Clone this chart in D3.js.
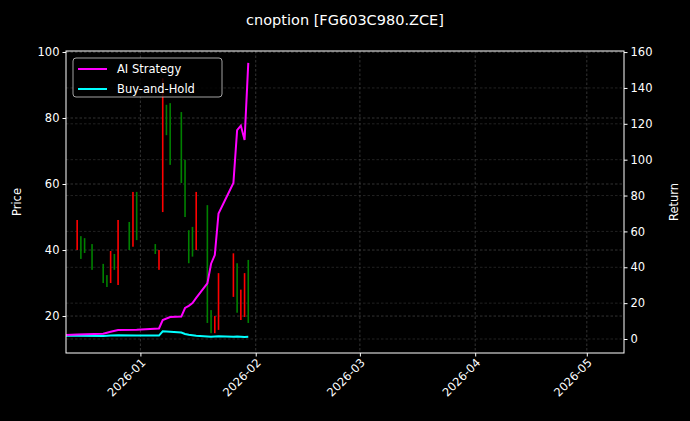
<!DOCTYPE html>
<html><head><meta charset="utf-8">
<script src="https://cdn.jsdelivr.net/npm/d3@7"></script>
<style>body{margin:0;background:#000}text{font-family:"DejaVu Sans",sans-serif}</style>
</head><body><svg id="c" width="690" height="421"></svg>
<script>
const candleDates=["2025-12-15","2025-12-16","2025-12-17","2025-12-19","2025-12-22","2025-12-23","2025-12-24","2025-12-25","2025-12-26","2025-12-29","2025-12-30","2025-12-31","2026-01-05","2026-01-06","2026-01-07","2026-01-08","2026-01-09","2026-01-12","2026-01-13","2026-01-14","2026-01-15","2026-01-16","2026-01-19","2026-01-20","2026-01-21","2026-01-22","2026-01-26","2026-01-27","2026-01-28","2026-01-29","2026-01-30"];
const openP =[40.0,44.2,43.6,41.8,35.8,32.4,30.0,38.8,29.4,48.5,41.0,57.6,41.8,34.0,51.5,84.0,84.5,81.8,67.3,46.0,47.0,40.0,53.6,21.8,14.8,15.8,25.8,36.0,18.8,19.7,37.0];
const closeP=[49.1,37.3,39.1,34.0,30.0,28.8,39.7,34.0,49.1,40.0,57.6,43.0,38.8,40.0,92.0,74.8,65.8,60.3,50.0,36.0,38.0,57.6,17.9,14.8,20.0,33.0,39.0,21.0,28.0,33.0,17.9];
const returnDates=["2025-12-12","2025-12-15","2025-12-22","2025-12-24","2025-12-26","2025-12-31","2026-01-06","2026-01-07","2026-01-09","2026-01-12","2026-01-13","2026-01-14","2026-01-15","2026-01-16","2026-01-19","2026-01-20","2026-01-21","2026-01-22","2026-01-26","2026-01-27","2026-01-28","2026-01-29","2026-01-30"];
const aiReturn=[2.2,2.5,3.0,4.0,5.0,5.2,5.9,10.6,12.3,12.5,17.3,18.5,20.0,22.9,31.0,42.0,46.8,70.0,87.0,116.5,119.0,111.0,154.0];
const bhReturn=[1.8,1.8,1.7,2.0,2.1,1.9,1.9,4.3,4.0,3.6,2.8,2.4,2.1,1.8,1.4,1.2,1.4,1.6,1.3,1.4,1.3,1.1,1.2];
const priceTicks=[20,40,60,80,100];
const returnTicks=[0,20,40,60,80,100,120,140,160];
const dateTicks=["2026-01-01","2026-02-01","2026-03-01","2026-04-01","2026-05-01"];

const p=d3.utcParse("%Y-%m-%d");
const L=66,R=624,T=51,B=353;
const svg=d3.select("#c");
svg.append("rect").attr("width",690).attr("height",421).attr("fill","#000");
const x=d3.scaleUtc().domain([p("2025-12-12"),p("2026-05-11")]).range([L,R]);
const y=d3.scaleLinear().domain([8.8,100.3]).range([B,T]);
const y2=d3.scaleLinear().domain([-7.8,160.6]).range([B,T]);
const g=svg.append("g");
g.selectAll(".vg").data(dateTicks).join("line").attr("x1",d=>x(p(d))).attr("x2",d=>x(p(d))).attr("y1",T).attr("y2",B)
 .attr("stroke","#555").attr("stroke-width",0.6).attr("stroke-dasharray","2.5,2");
g.selectAll(".hg").data(priceTicks).join("line").attr("x1",L).attr("x2",R).attr("y1",d=>y(d)).attr("y2",d=>y(d))
 .attr("stroke","#555").attr("stroke-width",0.6).attr("stroke-dasharray","2.5,2");
g.selectAll(".hg2").data(returnTicks).join("line").attr("x1",L).attr("x2",R).attr("y1",d=>y2(d)).attr("y2",d=>y2(d))
 .attr("stroke","#444").attr("stroke-width",0.5).attr("stroke-dasharray","2.5,2");
const cd=candleDates.map((d,i)=>({d:p(d),o:openP[i],c:closeP[i]}));
g.selectAll(".cd").data(cd).join("rect").attr("x",d=>x(d.d)-0.8).attr("width",1.6)
 .attr("y",d=>y(Math.max(d.o,d.c))).attr("height",d=>Math.abs(y(d.o)-y(d.c)))
 .attr("fill",d=>d.c>=d.o?"#ff0000":"#008000");
const rd=returnDates.map(p);
const ln=d3.line().x(d=>x(d[0])).y(d=>y2(d[1]));
g.append("path").attr("d",ln(rd.map((d,i)=>[d,bhReturn[i]]))).attr("fill","none").attr("stroke","#00ffff").attr("stroke-width",2);
g.append("path").attr("d",ln(rd.map((d,i)=>[d,aiReturn[i]]))).attr("fill","none").attr("stroke","#ff00ff").attr("stroke-width",2);
const ax=svg.append("g").attr("transform",`translate(0,${B})`).call(d3.axisBottom(x).tickValues(dateTicks.map(p)).tickFormat(d3.utcFormat("%Y-%m")).tickSize(3.5));
ax.selectAll("text").attr("transform","rotate(-45)").attr("text-anchor","end").attr("dx","-0.3em").attr("dy","0.4em");
const ay=svg.append("g").attr("transform",`translate(${L},0)`).call(d3.axisLeft(y).tickValues(priceTicks).tickSize(3.5));
const ay2=svg.append("g").attr("transform",`translate(${R},0)`).call(d3.axisRight(y2).tickValues(returnTicks).tickSize(3.5));
[ax,ay,ay2].forEach(a=>{a.select(".domain").remove();a.selectAll("line").attr("stroke","#fff");a.selectAll("text").attr("fill","#fff").attr("font-size",11.5);});
svg.append("rect").attr("x",L).attr("y",T).attr("width",R-L).attr("height",B-T).attr("fill","none").attr("stroke","#fff").attr("stroke-width",1);
svg.append("text").attr("x",345).attr("y",25).attr("text-anchor","middle").attr("fill","#fff").attr("font-size",14.5).text("cnoption [FG603C980.ZCE]");
svg.append("text").attr("transform","translate(21,202) rotate(-90)").attr("text-anchor","middle").attr("fill","#fff").attr("font-size",11.5).text("Price");
svg.append("text").attr("transform","translate(678,202) rotate(-90)").attr("text-anchor","middle").attr("fill","#fff").attr("font-size",11.5).text("Return");
const lg=svg.append("g");
lg.append("rect").attr("x",73).attr("y",58).attr("width",149).attr("height",39).attr("rx",3).attr("fill","#000").attr("fill-opacity",0.8).attr("stroke","#ccc").attr("stroke-width",0.8);
[["AI Strategy","#ff00ff"],["Buy-and-Hold","#00ffff"]].forEach((e,i)=>{
 lg.append("line").attr("x1",78).attr("x2",107).attr("y1",69+i*20).attr("y2",69+i*20).attr("stroke",e[1]).attr("stroke-width",2);
 lg.append("text").attr("x",117).attr("y",73+i*20).attr("fill","#fff").attr("font-size",11.5).text(e[0]);
});
</script></body></html>
